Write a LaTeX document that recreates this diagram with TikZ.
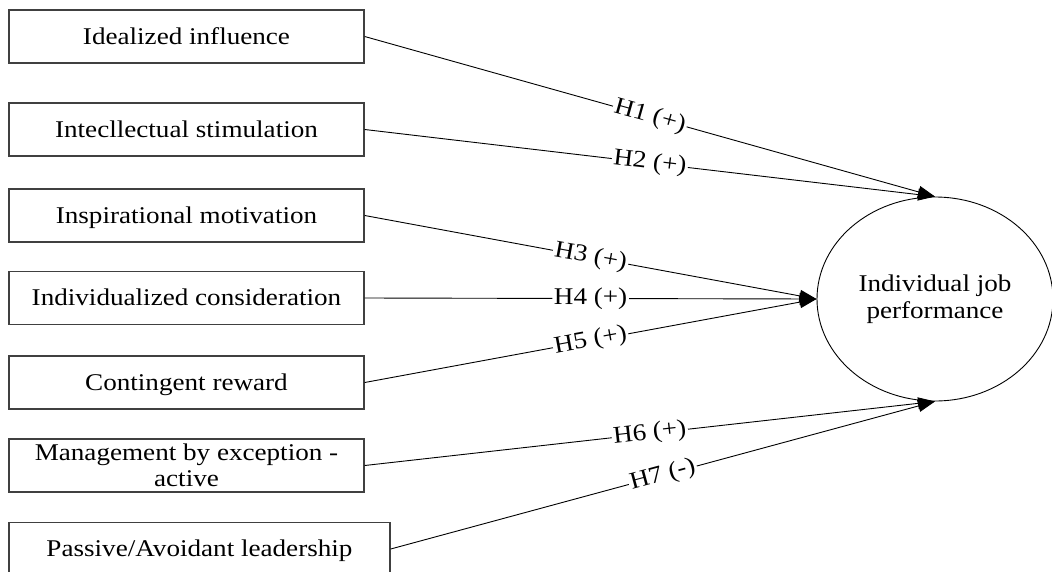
\documentclass[tikz,border=0pt]{standalone}
\usepackage{fontspec}
\setmainfont[FakeStretch=1.13]{Liberation Serif}
\usetikzlibrary{arrows.meta,shapes.geometric}
\tikzset{
  varbox/.style={draw=black!75, line width=1.4pt, minimum width=355pt, minimum height=53pt, inner sep=0pt,
    font=\fontsize{24}{26.5}\selectfont, text height=20pt, text depth=5pt},
  widebox/.style={varbox, minimum width=381pt},
  twoline/.style={varbox, text height=, text depth=, align=center},
  outcome/.style={draw, ellipse, line width=0.9pt, minimum width=236pt, minimum height=204pt, inner sep=0pt,
    align=center, font=\fontsize{24}{27.5}\selectfont},
  link/.style={line width=0.9pt, -{Triangle[length=17pt,width=12pt]}},
  hyp/.style={midway, sloped, fill=white, inner sep=1.5pt, font=\fontsize{24}{26}\selectfont}
}
\begin{document}
\begin{tikzpicture}[x=1pt,y=-1pt]
\useasboundingbox (0,0) rectangle (1052,571);
\node[varbox] (b1) at (186.5,36.5) {Idealized influence};
\node[varbox] (b2) at (186.5,129.5) {Intecllectual stimulation};
\node[varbox] (b3) at (186.5,215.5) {Inspirational motivation};
\node[varbox] (b4) at (186.5,298) {Individualized consideration};
\node[varbox] (b5) at (186.5,382.5) {Contingent reward};
\node[twoline] (b6) at (186.5,465.5) {Management by exception -\\active};
\node[widebox] (b7) at (199.5,549) {Passive/Avoidant leadership};
\node[outcome] (y) at (935,299) {Individual job\\performance};
\draw[link] (b1.east) -- node[hyp] {H1 (+)} (y.north);
\draw[link] (b2.east) -- node[hyp] {H2 (+)} (y.north);
\draw[link] (b3.east) -- node[hyp] {H3 (+)} (y.west);
\draw[link] (b4.east) -- node[hyp] {H4 (+)} (y.west);
\draw[link] (b5.east) -- node[hyp] {H5 (+)} (y.west);
\draw[link] (b6.east) -- node[hyp] {H6 (+)} (y.south);
\draw[link] (b7.east) -- node[hyp] {H7 (-)} (y.south);
\end{tikzpicture}
\end{document}
